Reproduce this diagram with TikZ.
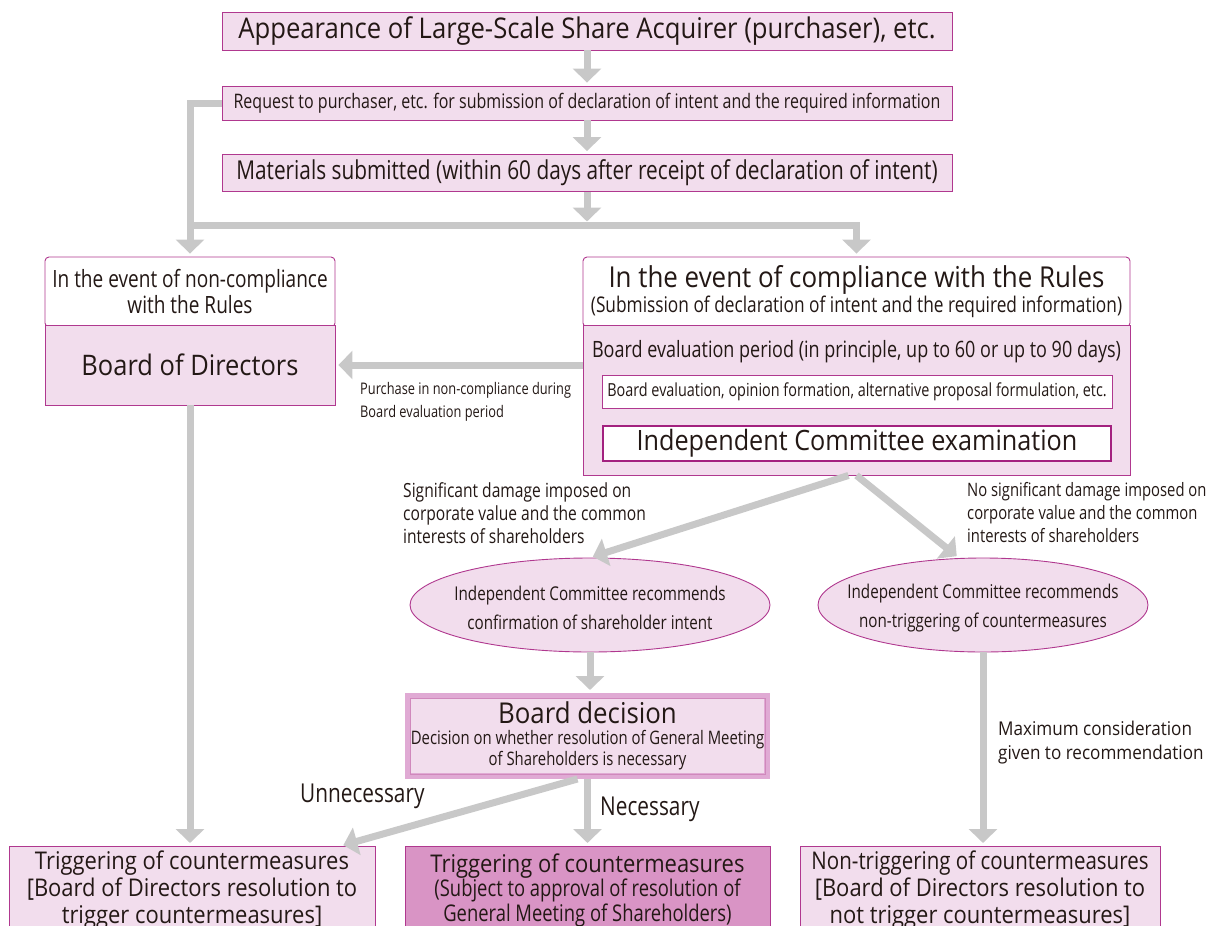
\documentclass[tikz,border=0pt]{standalone}
\usepackage{fontspec}
\setmainfont{Open Sans}
\newfontfamily\semifont[FakeStretch=0.9]{Open Sans}
\newfontfamily\tightfont[FakeStretch=0.84]{Open Sans}
\newfontfamily\narrowfont[FakeStretch=0.8]{Open Sans}
\usetikzlibrary{arrows.meta,shapes.geometric}
\definecolor{boxpink}{HTML}{F2DDED}
\definecolor{boxline}{HTML}{B0388F}
\definecolor{icline}{HTML}{A3217F}
\definecolor{flowgray}{HTML}{C8C8C8}
\definecolor{darkpink}{HTML}{D994C5}
\definecolor{decisionline}{HTML}{E0AAD4}
\definecolor{innerline}{HTML}{D088BC}
\definecolor{inkblack}{HTML}{231815}
\newcommand{\flowWidth}{7pt}

\tikzset{
	stepbox/.style={draw=boxline, fill=boxpink, line width=0.9pt, inner sep=0pt, align=center, text=inkblack},
	headbox/.style={draw=boxline, fill=white, line width=0.9pt, inner sep=0pt, align=center, text=inkblack, rounded corners=4pt},
	flow/.style={draw=flowgray, line width=\flowWidth, shorten >=3pt, -{Triangle[width=28pt,length=14pt]}},
	note/.style={inner sep=0pt, align=left, anchor=north west, text=inkblack},
	ovaltext/.style={inner sep=0pt, align=center, text=inkblack, font=\narrowfont\fontsize{19}{29}\selectfont},
	resultbox/.style={stepbox, anchor=north, inner xsep=0pt, inner ysep=4pt, font=\semifont\fontsize{24.4}{27}\selectfont},
}

\begin{document}
\begin{tikzpicture}[x=1pt, y=-1pt]
	\useasboundingbox (0,0) rectangle (1208,926);
	\clip (0,0) rectangle (1208,926);

	% request phase
	\node[stepbox, minimum width=730pt, minimum height=38pt, font=\semifont\fontsize{28.5}{30}\selectfont] (appear) at (587,31) {Appearance of Large-Scale Share Acquirer (purchaser), etc.};
	\node[stepbox, minimum width=730pt, minimum height=34pt, font=\narrowfont\fontsize{20}{22}\selectfont] (request) at (587,103) {Request to purchaser, etc. for submission of declaration of intent and the required information};
	\node[stepbox, minimum width=730pt, minimum height=37pt, font=\narrowfont\fontsize{26}{28}\selectfont] (materials) at (587,173) {Materials submitted (within 60 days after receipt of declaration of intent)};
	\coordinate (junction) at (587,225);

	% non-compliance
	\node[headbox, minimum width=290pt, minimum height=70pt, font=\narrowfont\fontsize{23.8}{26}\selectfont] (ncHead) at (190,292) {In the event of non-compliance\\with the Rules};
	\node[stepbox, minimum width=290pt, minimum height=80pt, font=\semifont\fontsize{28.3}{30}\selectfont] (ncBody) at (190,365) {Board of Directors};

	% compliance
	\node[headbox, minimum width=547pt, minimum height=70pt, font=\narrowfont\fontsize{21.6}{25}\selectfont] (cHead) at (856.5,292) {{\semifont\fontsize{28.8}{25}\selectfont In the event of compliance with the Rules}\\(Submission of declaration of intent and the required information)};
	\node[stepbox, minimum width=547pt, minimum height=150pt] (cBody) at (856.5,400) {};
	\node[inner sep=0pt, text=inkblack, font=\narrowfont\fontsize{22.5}{24}\selectfont] (period) at (856.5,352) {Board evaluation period (in principle, up to 60 or up to 90 days)};
	\node[stepbox, fill=white, minimum width=510pt, minimum height=33pt, font=\narrowfont\fontsize{18}{20}\selectfont] (evalBox) at (857,391.5) {Board evaluation, opinion formation, alternative proposal formulation, etc.};
	\node[stepbox, fill=white, draw=icline, line width=2.6pt, minimum width=508pt, minimum height=35pt, font=\semifont\fontsize{28}{30}\selectfont] (icBox) at (857,443.5) {Independent Committee examination};

	% recommendations
	\node[ellipse, stepbox, minimum width=360pt, minimum height=94pt] (e1) at (590,605) {};
	\node[ovaltext] (e1Text) at (590,608) {Independent Committee recommends\\confirmation of shareholder intent};
	\node[ellipse, stepbox, minimum width=330pt, minimum height=94pt] (e2) at (983,605) {};
	\node[ovaltext] (e2Text) at (983,608) {Independent Committee recommends\\non-triggering of countermeasures};

	% board decision
	\node[stepbox, draw=decisionline, line width=6pt, minimum width=359pt, minimum height=80pt, font=\narrowfont\fontsize{18.6}{21}\selectfont] (bd) at (587.5,736) {{\semifont\fontsize{28.7}{21}\selectfont Board decision}\\Decision on whether resolution of General Meeting\\of Shareholders is necessary};
	\draw[innerline, line width=0.6pt] ([shift={(5,5)}]bd.north west) rectangle ([shift={(-5,-5)}]bd.south east);

	% results
	\node[resultbox, minimum width=366pt] (tl) at (192,846) {Triggering of countermeasures\\{[}Board of Directors resolution to\\trigger countermeasures{]}};
	\node[resultbox, fill=darkpink, minimum width=365pt, inner ysep=7pt, font=\narrowfont\fontsize{23}{24.5}\selectfont] (tm) at (587.5,846) {{\semifont\fontsize{24.4}{27}\selectfont Triggering of countermeasures}\\(Subject to approval of resolution of\\General Meeting of Shareholders)};
	\node[resultbox, minimum width=360pt] (tr) at (980,846) {{\tightfont Non-triggering of countermeasures}\\{[}Board of Directors resolution to\\not trigger countermeasures{]}};

	% connectors
	\draw[flow] (appear) -- (request);
	\draw[flow] (request) -- (materials);
	\draw[flow, shorten >=3.5pt] (materials) -- (junction);
	\draw[flow] (request.west) -| (ncHead.north);
	\draw[flow] (junction -| ncHead.north) -| (cHead.north);
	\draw[flow] (ncBody.east -| cBody.west) -- (ncBody.east);
	\draw[flow] ([xshift=-8pt]cBody.south) -- (e1.north);
	\draw[flow] (cBody.south) -- (e2.117);
	\draw[flow] (e1.south) -- (e1.south |- bd.north);
	\draw[flow] (bd.south) -- (tm.north);
	\draw[flow] ([xshift=-10pt]bd.south) -- ([xshift=-35pt]tl.north east);
	\draw[flow] (ncBody.south) -- (ncBody.south |- tl.north);
	\draw[flow] (e2.south) -- (e2.south |- tr.north);

	% connector labels
	\node[note, font=\narrowfont\fontsize{16}{23}\selectfont] (purchaseNote) at (360,382) {Purchase in non-compliance during\\Board evaluation period};
	\node[note, font=\narrowfont\fontsize{19.5}{23}\selectfont] (harmNote) at (403,482) {Significant damage imposed on\\corporate value and the common\\interests of shareholders};
	\node[note, font=\narrowfont\fontsize{18.5}{23}\selectfont] (noHarmNote) at (967,482) {No significant damage imposed on\\corporate value and the common\\interests of shareholders};
	\node[note, font=\narrowfont\fontsize{26}{28}\selectfont] (unnecessaryNote) at (300,784) {Unnecessary};
	\node[note, font=\narrowfont\fontsize{26}{28}\selectfont] (necessaryNote) at (600,797) {Necessary};
	\node[note, font=\semifont\fontsize{19}{24}\selectfont] (maxNote) at (998,721) {Maximum consideration\\given to recommendation};
\end{tikzpicture}
\end{document}
